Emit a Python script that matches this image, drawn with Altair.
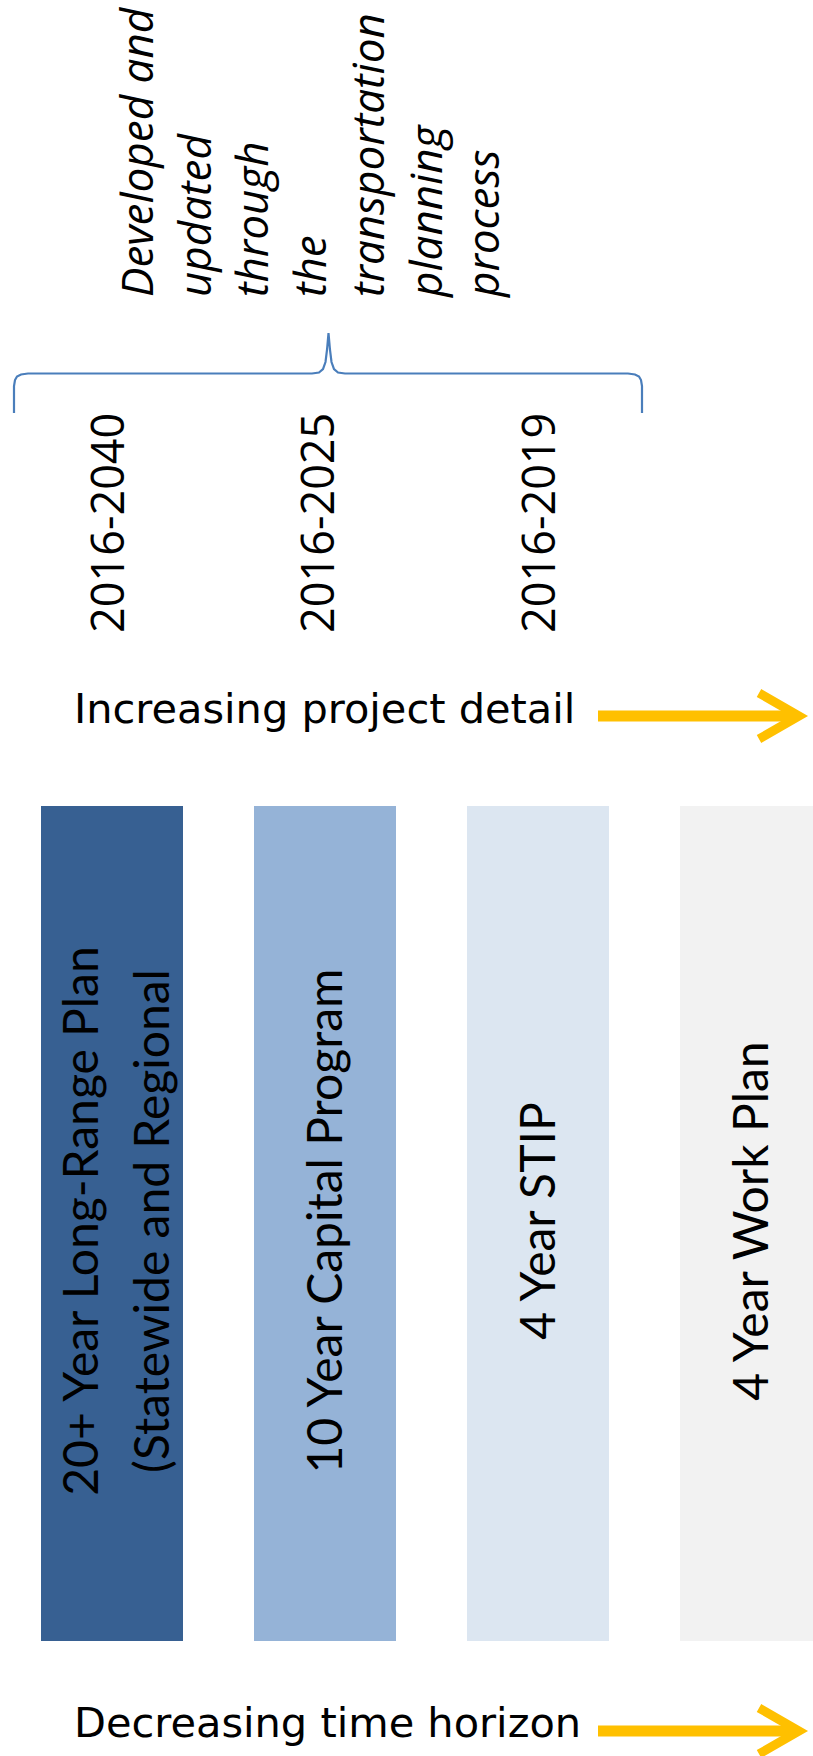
import altair as alt
import pandas as pd

# ---------------- data ----------------
plans = ["20+ Year Long-Range Plan\n(Statewide and Regional",
         "10 Year Capital Program",
         "4 Year STIP",
         "4 Year Work Plan"]
plan_colors = ["#376092", "#95B3D7", "#DCE6F1", "#F2F2F2"]
periods = ["2016-2040", "2016-2025", "2016-2019"]
note_lines = ["Developed and", "updated", "through", "the",
              "transportation", "planning", "process"]
arrow_labels = ["Increasing project detail", "Decreasing time horizon"]

# ---------------- layout (pixel space of the 813 x 1756 page) ----------------
W, H = 813, 1756
BAR_LEFT, BAR_PITCH, BAR_W = 41, 213, 142
BAR_TOP, BAR_BOTTOM = 806, 1641
LABEL_Y = 1221
LINE_H = 71
PERIOD_X = [124, 334, 555]
PERIOD_Y = 633
NOTE_X0, NOTE_DX, NOTE_Y = 153, 57.7, 297
ARROW_Y = [716, 1731]
ARROW_TEXT_Y = [723, 1737]
ARROW_X0, ARROW_X1 = 598, 799
TEXT_X0 = 74

xs = alt.Scale(domain=[0, W], nice=False, zero=False)
ys = alt.Scale(domain=[0, H], nice=False, zero=False, reverse=True)

def X(f="x"):
    return alt.X(f"{f}:Q", scale=xs, axis=None)

def Y(f="y"):
    return alt.Y(f"{f}:Q", scale=ys, axis=None)

# bars
bars_df = pd.DataFrame({
    "plan": plans,
    "x": [BAR_LEFT + BAR_PITCH * i for i in range(len(plans))],
    "x2": [BAR_LEFT + BAR_PITCH * i + BAR_W for i in range(len(plans))],
    "y": [BAR_TOP] * len(plans),
    "y2": [BAR_BOTTOM] * len(plans),
})
bars = alt.Chart(bars_df).mark_rect().encode(
    x=X(), x2="x2:Q", y=Y(), y2="y2:Q",
    color=alt.Color("plan:N", scale=alt.Scale(domain=plans, range=plan_colors), legend=None),
)

# bar labels (rotated, one row per line)
rows = []
for i, p in enumerate(plans):
    lines = p.split("\n")
    n = len(lines)
    c = BAR_LEFT + BAR_PITCH * i + BAR_W / 2
    for k, ln in enumerate(lines):
        rows.append({"text": ln,
                     "x": c + 17 + (k - (n - 1) / 2) * LINE_H + (n - 1) * 4.5,
                     "y": LABEL_Y})
plan_text = alt.Chart(pd.DataFrame(rows)).mark_text(
    angle=270, align="center", baseline="alphabetic",
    font="Lato", fontSize=48, color="#000000"
).encode(x=X(), y=Y(), text="text:N")

# period labels
per_df = pd.DataFrame({"text": periods, "x": PERIOD_X, "y": [PERIOD_Y] * len(periods)})
per_text = alt.Chart(per_df).mark_text(
    angle=270, align="left", baseline="alphabetic",
    font="Open Sans", fontSize=45, color="#000000"
).encode(x=X(), y=Y(), text="text:N")

# note (italic column text)
note_df = pd.DataFrame({"text": note_lines,
                        "x": [NOTE_X0 + NOTE_DX * i for i in range(len(note_lines))],
                        "y": [NOTE_Y] * len(note_lines)})
note_text = alt.Chart(note_df).mark_text(
    angle=270, align="left", baseline="alphabetic",
    font="Open Sans", fontStyle="italic", fontSize=44, color="#000000"
).encode(x=X(), y=Y(), text="text:N")

# brace
bx = [14, 14, 15, 17, 21, 28, 312, 319, 323, 325.5, 327, 328.5,
      330, 331.5, 334, 338, 345, 628, 635, 639, 641, 642, 642]
by = [413, 386, 380, 376.5, 374.5, 373.5, 373.5, 372.5, 369, 362, 350, 333,
      350, 362, 369, 372.5, 373.5, 373.5, 374.5, 376.5, 380, 386, 413]
brace_df = pd.DataFrame({"x": bx, "y": by, "o": list(range(len(bx)))})
brace = alt.Chart(brace_df).mark_line(color="#4A7EBB", strokeWidth=2.2).encode(
    x=X(), y=Y(), order="o:Q")

# arrows
shaft_df = pd.DataFrame({"x": [ARROW_X0] * 2, "x2": [ARROW_X1 - 6] * 2, "y": ARROW_Y})
shafts = alt.Chart(shaft_df).mark_rule(color="#FFC000", strokeWidth=11).encode(
    x=X(), x2="x2:Q", y=Y())
head_rows = []
for a, yy in enumerate(ARROW_Y):
    for j, (dx, dy) in enumerate([(-40, -23), (0, 0), (-40, 23)]):
        head_rows.append({"a": a, "o": j, "x": ARROW_X1 + dx, "y": yy + dy})
heads = alt.Chart(pd.DataFrame(head_rows)).mark_line(
    color="#FFC000", strokeWidth=9, strokeJoin="miter", strokeCap="butt"
).encode(x=X(), y=Y(), detail="a:N", order="o:Q")

arr_text_df = pd.DataFrame({"text": arrow_labels, "x": [TEXT_X0] * 2, "y": ARROW_TEXT_Y})
arr_text = alt.Chart(arr_text_df).mark_text(
    align="left", baseline="alphabetic", font="DejaVu Sans", fontSize=41.5, color="#000000"
).encode(x=X(), y=Y(), text="text:N")

chart = alt.layer(
    bars, plan_text, per_text, note_text, brace, shafts, heads, arr_text
).properties(
    width=W, height=H, padding=0, autosize="none", background="white"
).configure_view(strokeWidth=0)

chart.save("out.html", embed_options={"renderer": "svg", "actions": False})
